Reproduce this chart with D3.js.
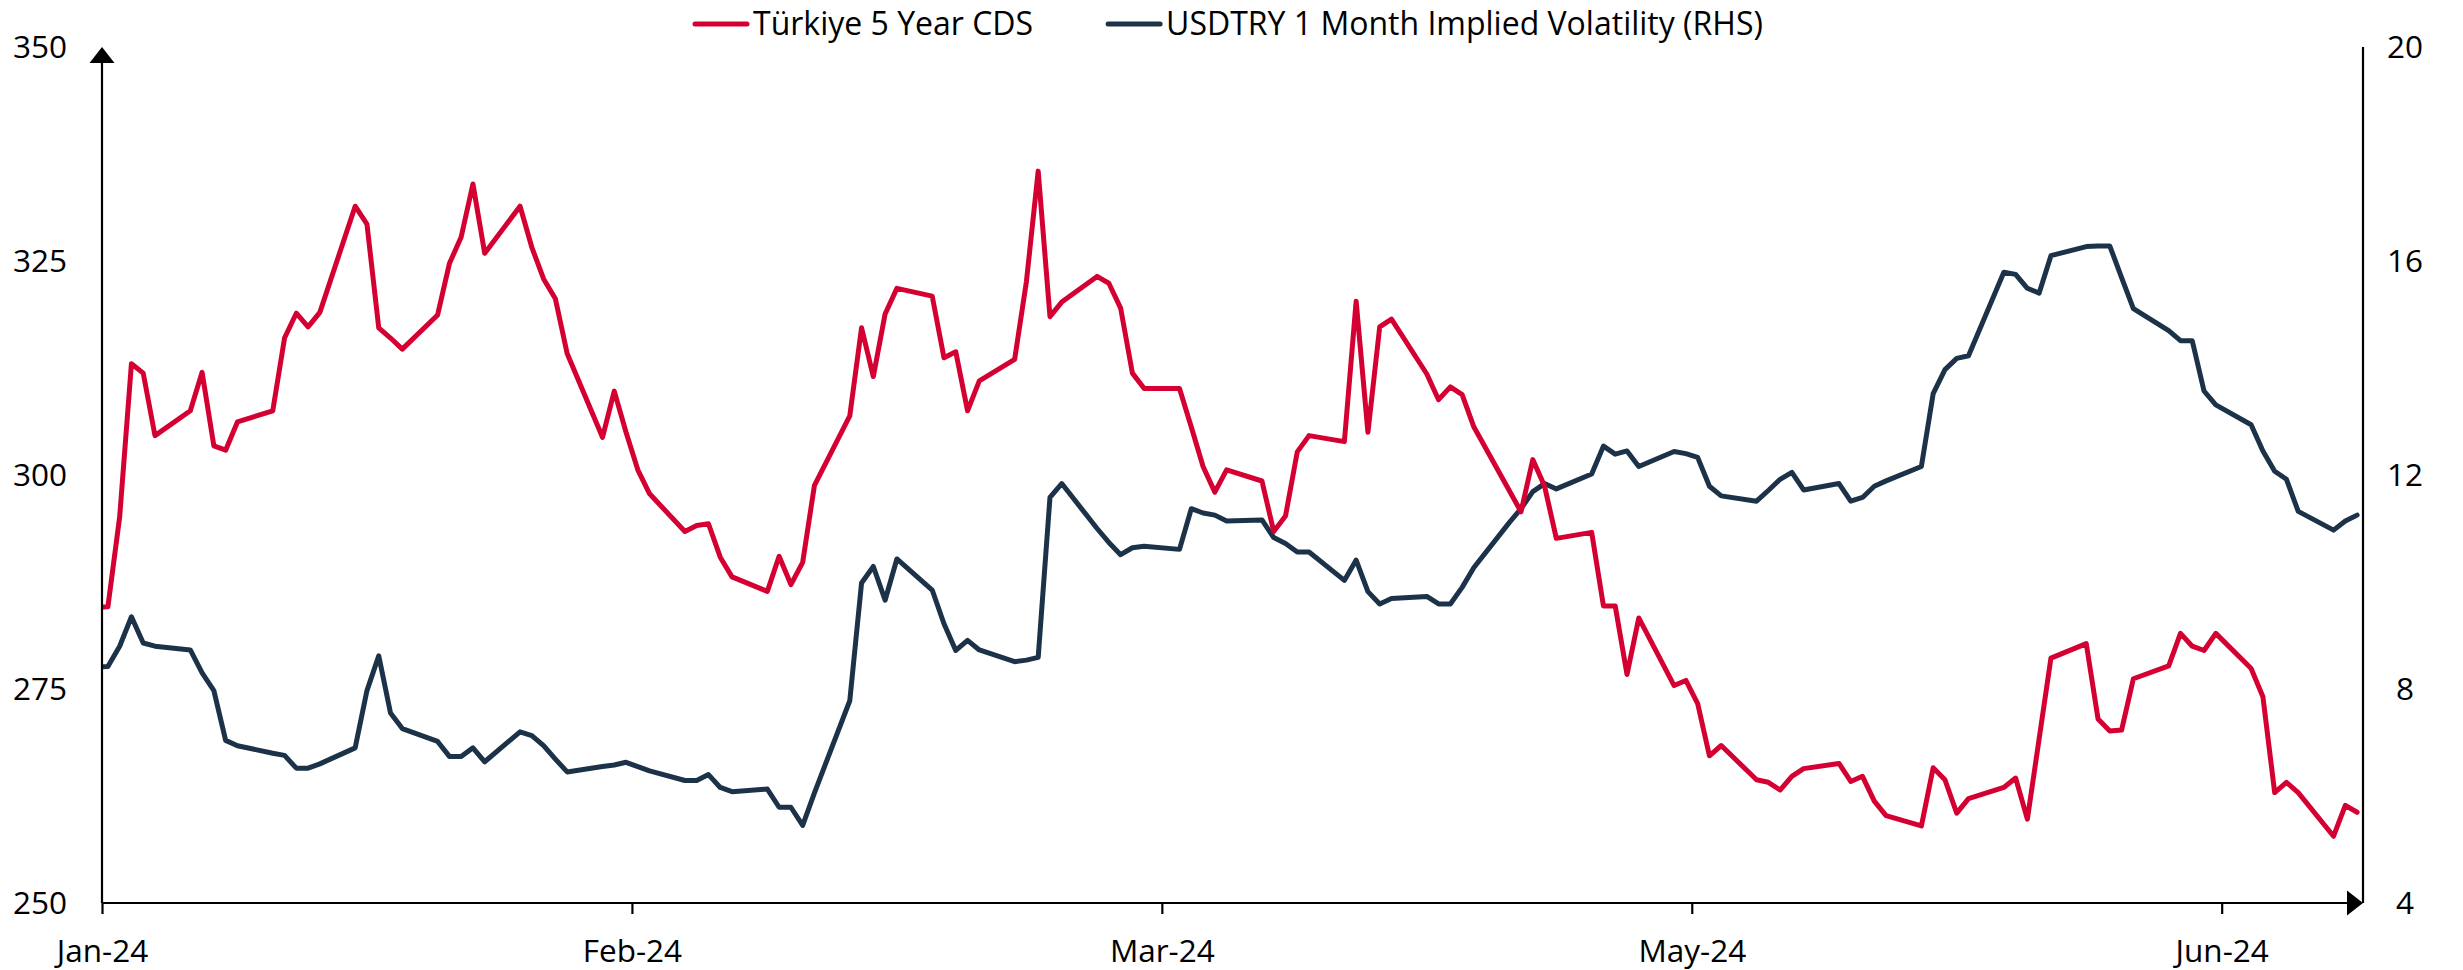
<!DOCTYPE html>
<html>
<head>
<meta charset="utf-8">
<script src="https://cdn.jsdelivr.net/npm/d3@7"></script>
<style>
    body { margin: 0; background: #fff; }
    text { font-family: "Open Sans", sans-serif; fill: #000; }
</style>
</head>
<body>
<svg id="chart" width="2463" height="970"></svg>
<script>
// trading days shown in the chart (first one sits just left of the axis start)
var dates = [
    "2023-12-29",
    "2024-01-01","2024-01-02","2024-01-03","2024-01-04","2024-01-05",
    "2024-01-08","2024-01-09","2024-01-10","2024-01-11","2024-01-12",
    "2024-01-15","2024-01-16","2024-01-17","2024-01-18","2024-01-19",
    "2024-01-22","2024-01-23","2024-01-24","2024-01-25","2024-01-26",
    "2024-01-29","2024-01-30","2024-01-31","2024-02-01","2024-02-02",
    "2024-02-05","2024-02-06","2024-02-07","2024-02-08","2024-02-09",
    "2024-02-12","2024-02-13","2024-02-14","2024-02-15","2024-02-16",
    "2024-02-19","2024-02-20","2024-02-21","2024-02-22","2024-02-23",
    "2024-02-26","2024-02-27","2024-02-28","2024-02-29","2024-03-01",
    "2024-03-04","2024-03-05","2024-03-06","2024-03-07","2024-03-08",
    "2024-03-11","2024-03-12","2024-03-13","2024-03-14","2024-03-15",
    "2024-03-18","2024-03-19","2024-03-20","2024-03-21","2024-03-22",
    "2024-03-25","2024-03-26","2024-03-27","2024-03-28","2024-03-29",
    "2024-04-01","2024-04-02","2024-04-03","2024-04-04","2024-04-05",
    "2024-04-08","2024-04-09","2024-04-10","2024-04-11","2024-04-12",
    "2024-04-15","2024-04-16","2024-04-17","2024-04-18","2024-04-19",
    "2024-04-22","2024-04-23","2024-04-24","2024-04-25","2024-04-26",
    "2024-04-29","2024-04-30","2024-05-01","2024-05-02","2024-05-03",
    "2024-05-06","2024-05-07","2024-05-08","2024-05-09","2024-05-10",
    "2024-05-13","2024-05-14","2024-05-15","2024-05-16","2024-05-17",
    "2024-05-20","2024-05-21","2024-05-22","2024-05-23","2024-05-24",
    "2024-05-27","2024-05-28","2024-05-29","2024-05-30","2024-05-31",
    "2024-06-03","2024-06-04","2024-06-05","2024-06-06","2024-06-07",
    "2024-06-10","2024-06-11","2024-06-12","2024-06-13","2024-06-14",
    "2024-06-17","2024-06-18","2024-06-19","2024-06-20","2024-06-21",
    "2024-06-24","2024-06-25","2024-06-26","2024-06-27","2024-06-28",
    "2024-07-01","2024-07-02","2024-07-03","2024-07-04","2024-07-05",
    "2024-07-08","2024-07-09","2024-07-10"
];

// Türkiye 5 Year CDS (LHS)
var cds = [
    284.5,
    284.6, 295.1, 313.0, 311.9, 304.6,
    307.5, 312.0, 303.4, 302.9, 306.2,
    307.5, 316.0, 318.9, 317.3, 319.0,
    331.4, 329.3, 317.2, 316.0, 314.7,
    318.7, 324.7, 327.8, 334.0, 325.9,
    331.4, 326.6, 322.9, 320.6, 314.2,
    304.4, 309.8, 305.0, 300.6, 297.8,
    293.4, 294.1, 294.3, 290.4, 288.1,
    286.4, 290.5, 287.2, 289.8, 298.8,
    306.9, 317.2, 311.5, 318.8, 321.8,
    320.9, 313.7, 314.4, 307.5, 311.0,
    313.5, 322.6, 335.5, 318.5, 320.2,
    323.2, 322.4, 319.5, 311.9, 310.1,
    310.1, 305.6, 301.0, 298.0, 300.6,
    299.3, 293.4, 295.2, 302.7, 304.6,
    303.9, 320.3, 305.0, 317.3, 318.2,
    311.8, 308.8, 310.3, 309.4, 305.6,
    298.2, 295.7, 301.8, 298.7, 292.6,
    293.3, 284.7, 284.7, 276.7, 283.3,
    275.4, 276.0, 273.3, 267.2, 268.4,
    264.4, 264.1, 263.2, 264.8, 265.7,
    266.3, 264.2, 264.8, 261.9, 260.2,
    259.0, 265.8, 264.4, 260.5, 262.2,
    263.5, 264.6, 259.8, 269.2, 278.6,
    280.3, 271.5, 270.1, 270.2, 276.2,
    277.7, 281.5, 280.0, 279.5, 281.5,
    277.4, 274.1, 262.9, 264.1, 262.9,
    257.8, 261.4, 260.6
];

// USDTRY 1 Month Implied Volatility (RHS)
var vol = [
    8.39,
    8.42, 8.80, 9.35, 8.86, 8.80,
    8.73, 8.30, 7.97, 7.04, 6.94,
    6.80, 6.76, 6.52, 6.52, 6.60,
    6.90, 7.97, 8.62, 7.55, 7.26,
    7.02, 6.74, 6.74, 6.90, 6.64,
    7.20, 7.13, 6.94, 6.69, 6.45,
    6.55, 6.58, 6.63, 6.55, 6.47,
    6.29, 6.29, 6.40, 6.16, 6.08,
    6.13, 5.79, 5.79, 5.45, 6.06,
    7.78, 9.98, 10.29, 9.66, 10.43,
    9.85, 9.22, 8.72, 8.91, 8.73,
    8.51, 8.54, 8.59, 11.58, 11.84,
    11.00, 10.74, 10.51, 10.64, 10.67,
    10.61, 11.37, 11.29, 11.25, 11.14,
    11.16, 10.83, 10.72, 10.56, 10.56,
    10.03, 10.41, 9.82, 9.59, 9.69,
    9.73, 9.59, 9.59, 9.90, 10.27,
    11.11, 11.37, 11.69, 11.84, 11.74,
    12.02, 12.54, 12.39, 12.45, 12.16,
    12.44, 12.40, 12.33, 11.79, 11.61,
    11.51, 11.71, 11.92, 12.05, 11.72,
    11.84, 11.51, 11.58, 11.79, 11.89,
    12.16, 13.52, 13.97, 14.18, 14.23,
    15.79, 15.75, 15.49, 15.40, 16.10,
    16.27, 16.28, 16.28, 15.69, 15.11,
    14.70, 14.51, 14.51, 13.57, 13.31,
    12.94, 12.45, 12.07, 11.92, 11.32,
    10.97, 11.14, 11.25
];

var seriesNames = ["Türkiye 5 Year CDS", "USDTRY 1 Month Implied Volatility (RHS)"];
var seriesColors = ["#d50032", "#1c3249"];

var xStart = "2024-01-01";
var xEnd = "2024-07-11";
var xTickDates = ["2024-01-01", "2024-02-15", "2024-03-31", "2024-05-15", "2024-06-29"];
var leftTicks = [250, 275, 300, 325, 350];
var rightTicks = [4, 8, 12, 16, 20];

(function () {
    var parse = d3.utcParse("%Y-%m-%d");
    var fontSize = 31.5;
    var lineWidth = 5;

    var margin = {top: 47, right: 100, bottom: 67, left: 102};
    var svgW = 2463, svgH = 970;
    var width = svgW - margin.left - margin.right;
    var height = svgH - margin.top - margin.bottom;

    var svg = d3.select("#chart");
    var g = svg.append("g")
        .attr("transform", "translate(" + margin.left + "," + margin.top + ")");

    // points sit in the middle of their day (date axis, between tick marks)
    var data = dates.map(function (d, i) {
        return {date: d3.utcHour.offset(parse(d), 12), cds: cds[i], vol: vol[i]};
    });

    var x = d3.scaleUtc().domain([parse(xStart), parse(xEnd)]).range([0, width]);
    var yL = d3.scaleLinear().domain([250, 350]).range([height, 0]);
    var yR = d3.scaleLinear().domain([4, 20]).range([height, 0]);

    // left axis
    var gl = g.append("g")
        .call(d3.axisLeft(yL).tickValues(leftTicks).tickSize(0).tickPadding(35));
    gl.select(".domain").remove();
    gl.selectAll("text").style("font-size", fontSize + "px").attr("font-family", null);

    // right axis
    var gr = g.append("g")
        .attr("transform", "translate(" + width + ",0)")
        .call(d3.axisRight(yR).tickValues(rightTicks).tickSize(0).tickPadding(42));
    gr.select(".domain").remove();
    gr.selectAll("text").attr("text-anchor", "middle")
        .style("font-size", fontSize + "px").attr("font-family", null);

    // bottom axis
    var gb = g.append("g")
        .attr("transform", "translate(0," + height + ")")
        .call(d3.axisBottom(x)
            .tickValues(xTickDates.map(parse))
            .tickSize(11)
            .tickPadding(26)
            .tickFormat(d3.utcFormat("%b-%y")));
    gb.select(".domain").remove();
    gb.selectAll("line").attr("stroke", "#000").attr("stroke-width", 2.2);
    gb.selectAll("text").style("font-size", fontSize + "px").attr("font-family", null);

    // clip the lines to the plot area
    svg.append("defs").append("clipPath").attr("id", "plot-clip")
        .append("rect")
        .attr("x", 0).attr("y", -20)
        .attr("width", width).attr("height", height + 40);

    var lineL = d3.line()
        .x(function (d) { return x(d.date); })
        .y(function (d) { return yL(d.cds); });
    var lineR = d3.line()
        .x(function (d) { return x(d.date); })
        .y(function (d) { return yR(d.vol); });

    var plot = g.append("g").attr("clip-path", "url(#plot-clip)");
    plot.append("path")
        .datum(data)
        .attr("fill", "none")
        .attr("stroke", seriesColors[1])
        .attr("stroke-width", lineWidth)
        .attr("stroke-linejoin", "round")
        .attr("stroke-linecap", "round")
        .attr("d", lineR);
    plot.append("path")
        .datum(data)
        .attr("fill", "none")
        .attr("stroke", seriesColors[0])
        .attr("stroke-width", lineWidth)
        .attr("stroke-linejoin", "round")
        .attr("stroke-linecap", "round")
        .attr("d", lineL);

    // axis lines with arrow heads
    var arrowLen = 16, arrowHalf = 12.5;
    var axes = g.append("g").attr("stroke", "#000").attr("stroke-width", 2.2).attr("fill", "none");
    axes.append("line")
        .attr("x1", 0).attr("x2", 0)
        .attr("y1", height).attr("y2", yL(350) + arrowLen);
    axes.append("line")
        .attr("x1", width).attr("x2", width)
        .attr("y1", height).attr("y2", yR(20));
    axes.append("line")
        .attr("x1", 0).attr("x2", width - arrowLen)
        .attr("y1", height).attr("y2", height);
    g.append("path")
        .attr("fill", "#000")
        .attr("d", "M0," + yL(350) + "L" + (-arrowHalf) + "," + (yL(350) + arrowLen) +
            "L" + arrowHalf + "," + (yL(350) + arrowLen) + "Z");
    g.append("path")
        .attr("fill", "#000")
        .attr("d", "M" + width + "," + height + "L" + (width - arrowLen) + "," + (height - arrowHalf) +
            "L" + (width - arrowLen) + "," + (height + arrowHalf) + "Z");

    // legend
    var legend = svg.append("g").attr("transform", "translate(693,0)");
    var lx = 0;
    seriesNames.forEach(function (name, i) {
        legend.append("line")
            .attr("x1", lx + 2).attr("x2", lx + 54)
            .attr("y1", 24).attr("y2", 24)
            .attr("stroke", seriesColors[i])
            .attr("stroke-width", lineWidth)
            .attr("stroke-linecap", "round");
        var t = legend.append("text")
            .attr("x", lx + 60)
            .attr("y", 35)
            .style("font-size", "32px")
            .text(name);
        lx += 60 + t.node().getComputedTextLength() + 73;
    });
})();
</script>
</body>
</html>
